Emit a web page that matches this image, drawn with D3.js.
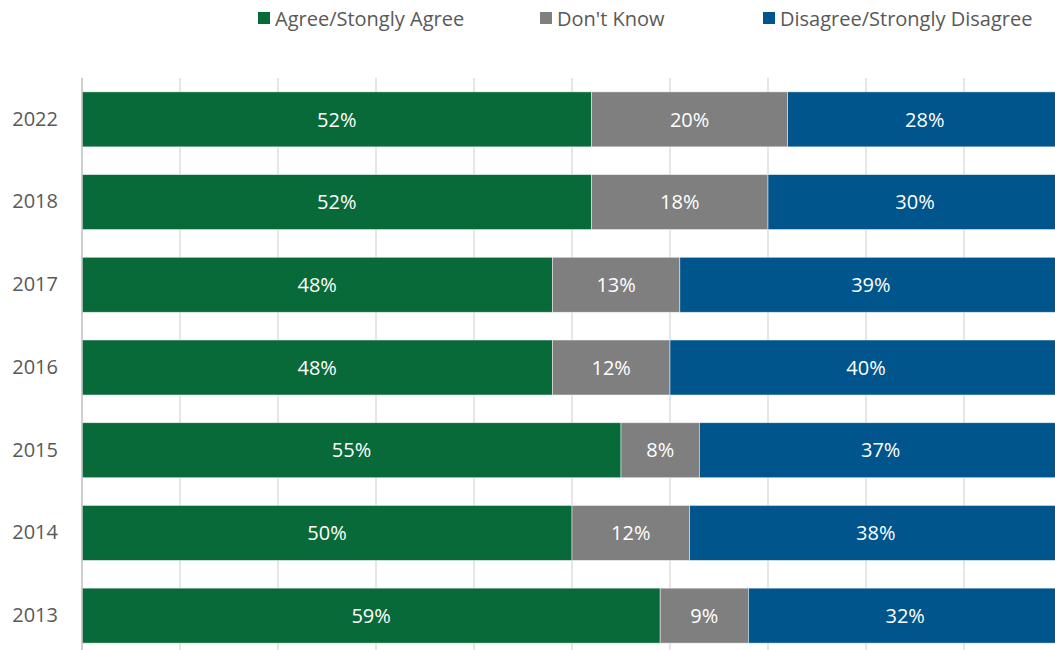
<!DOCTYPE html>
<html>
<head>
<meta charset="utf-8">
<script src="https://cdn.jsdelivr.net/npm/d3@7"></script>
<style>
  html, body { margin: 0; padding: 0; background: #fff; }
  svg { display: block; font-family: "Open Sans", "Noto Sans", sans-serif; }
</style>
</head>
<body>
<svg id="chart" width="1055" height="650"></svg>
<script>
// Survey responses by year (percent of respondents)
const years = ["2022", "2018", "2017", "2016", "2015", "2014", "2013"];
const agree = [52, 52, 48, 48, 55, 50, 59];
const dontKnow = [20, 18, 13, 12, 8, 12, 9];
const disagree = [28, 30, 39, 40, 37, 38, 32];

const seriesNames = ["Agree/Stongly Agree", "Don't Know", "Disagree/Strongly Disagree"];
const seriesKeys = ["agree", "dontKnow", "disagree"];
const colors = ["#076a38", "#7f7f7f", "#00558c"];
const xTicks = [0, 10, 20, 30, 40, 50, 60, 70, 80, 90, 100];

const rows = years.map((y, i) => ({ year: y, agree: agree[i], dontKnow: dontKnow[i], disagree: disagree[i] }));

const svg = d3.select("#chart");
const plotLeft = 82, plotW = 980, plotTop = 78, plotBottom = 657;

const x = d3.scaleLinear().domain([0, 100]).range([plotLeft, plotLeft + plotW]);
const y = d3.scaleBand().domain(years).range([plotTop, plotBottom]).paddingInner(0.335).paddingOuter(0.1675);

// vertical gridlines
svg.append("g").selectAll("line").data(xTicks.slice(1)).join("line")
  .attr("x1", d => x(d)).attr("x2", d => x(d))
  .attr("y1", plotTop).attr("y2", 650)
  .attr("stroke", "#d9d9d9").attr("stroke-width", 1.3);

const stack = d3.stack().keys(seriesKeys)(rows);

const groups = svg.append("g").selectAll("g").data(stack).join("g")
  .attr("fill", (d, i) => colors[i]);

groups.selectAll("rect").data(d => d).join("rect")
  .attr("x", d => x(d[0]))
  .attr("width", d => x(d[1]) - x(d[0]))
  .attr("y", d => y(d.data.year))
  .attr("height", y.bandwidth())
  .attr("stroke", "#ffffff").attr("stroke-opacity", 0.6).attr("stroke-width", 0.8);

// value labels
groups.selectAll("text").data(d => d).join("text")
  .attr("x", d => (x(d[0]) + x(d[1])) / 2)
  .attr("y", d => y(d.data.year) + y.bandwidth() / 2)
  .attr("dy", "0.36em")
  .attr("text-anchor", "middle")
  .attr("fill", "#ffffff")
  .attr("font-size", 20)
  .text(d => (d[1] - d[0]) + "%");

// category axis
const yAxis = svg.append("g").attr("transform", `translate(${plotLeft},0)`)
  .call(d3.axisLeft(y).tickSize(0).tickPadding(24));
yAxis.select(".domain").remove();
yAxis.selectAll("text").attr("fill", "#595959").attr("font-size", 20)
  .attr("font-family", "\"Open Sans\", sans-serif");

svg.append("line")
  .attr("x1", plotLeft).attr("x2", plotLeft).attr("y1", plotTop).attr("y2", 650)
  .attr("stroke", "#bfbfbf").attr("stroke-width", 1.5);

// legend
const legendX = [258, 540, 763];
const legend = svg.append("g").selectAll("g").data(seriesNames).join("g")
  .attr("transform", (d, i) => `translate(${legendX[i]},12)`);
legend.append("rect").attr("width", 12).attr("height", 12).attr("fill", (d, i) => colors[i]);
legend.append("text").attr("x", 17).attr("y", 7).attr("dy", "0.36em")
  .attr("fill", "#595959").attr("font-size", 20).text(d => d);
</script>
</body>
</html>
